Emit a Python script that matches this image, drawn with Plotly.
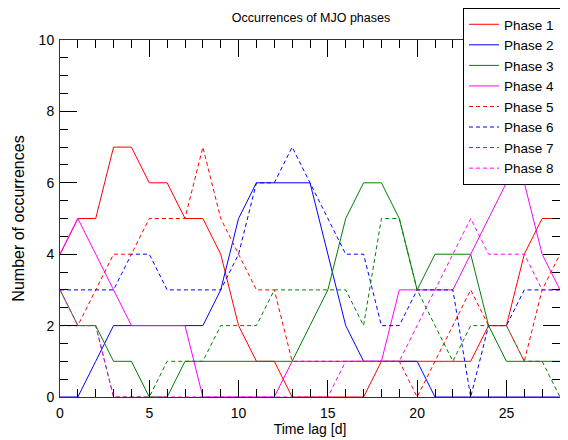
import plotly.graph_objects as go

lags = list(range(29))

phase1 = [4,5,5,7,7,6,6,5,5,4,2,1,1,0,0,0,0,0,1,1,1,1,1,1,2,2,4,5,5]
phase2 = [0,0,1,2,2,2,2,2,2,3,5,6,6,6,6,4,2,1,1,1,1,0,0,0,0,0,0,0,0]
phase3 = [3,2,2,1,1,0,0,1,1,1,1,1,1,1,2,3,5,6,6,5,3,4,4,4,2,1,1,1,1]
phase4 = [4,5,4,3,2,2,2,2,0,0,0,0,0,1,1,1,1,1,1,3,3,3,3,4,5,6,6,4,3]
phase5 = [2,2,3,4,4,5,5,5,7,5,4,3,3,1,1,1,1,1,1,1,0,1,2,3,2,2,1,3,4]
phase6 = [3,3,3,3,4,4,3,3,3,3,4,6,6,7,6,5,4,4,2,2,3,3,3,0,2,2,3,3,3]
phase7 = [2,2,2,0,0,0,1,1,1,2,2,2,3,3,3,3,3,2,5,5,3,2,1,2,2,2,1,1,0]
phase8 = [3,2,2,0,0,0,0,0,0,0,0,0,0,0,0,0,1,1,1,1,2,3,4,5,4,4,4,3,3]

names = ["Phase 1","Phase 2","Phase 3","Phase 4","Phase 5","Phase 6","Phase 7","Phase 8"]
series = [phase1,phase2,phase3,phase4,phase5,phase6,phase7,phase8]
colors = ["#ff0000","#0000ff","#008000","#ff00ff"]*2
dashes = ["solid"]*4 + ["4px,3px"]*4

FONT = "Liberation Sans, Arial, sans-serif"

# the page body has an 8px margin, so the figure is 560x432 placed at (8,8)
W, H = 560, 432
ML, MR, MT, MB = 52, 8, 32, 43

fig = go.Figure()
for n, s, c, d in zip(names, series, colors, dashes):
    fig.add_trace(go.Scatter(x=lags, y=s, mode="lines", name=n,
                             line=dict(color=c, width=1, dash=d)))

axis_common = dict(showline=True, linecolor="#333333", linewidth=1, mirror="ticks",
                   ticks="inside", ticklen=17, tickcolor="black", tickwidth=1,
                   showgrid=False, zeroline=False, automargin=False,
                   tickfont=dict(family=FONT, size=14, color="black"))

fig.update_xaxes(range=[0,28], tick0=0, dtick=5, ticklabelstandoff=3,
                 minor=dict(ticks="inside", ticklen=8, dtick=1, tickcolor="black", showgrid=False),
                 title=dict(text="Time lag [d]", font=dict(family=FONT, size=14, color="black"), standoff=0),
                 **axis_common)
fig.update_yaxes(range=[0,10], tick0=0, dtick=2, ticklabelstandoff=2,
                 minor=dict(ticks="inside", ticklen=8, dtick=0.5, tickcolor="black", showgrid=False),
                 title=dict(text="Number of occurrences", font=dict(family=FONT, size=16, color="black"), standoff=10),
                 **axis_common)

plot_h = H - MT - MB
fig.update_layout(
    width=W, height=H,
    margin=dict(l=ML, r=MR, t=MT, b=MB, autoexpand=False),
    paper_bgcolor="white", plot_bgcolor="white",
    title=dict(text="Occurrences of MJO phases", x=303/W, xanchor="center",
               y=1 - 10/H, yanchor="middle",
               font=dict(family=FONT, size=12.5, color="black")),
    legend=dict(x=0.806, y=1 + MT/plot_h, xanchor="left", yanchor="top",
                bgcolor="white", bordercolor="black", borderwidth=1,
                font=dict(family=FONT, size=13.5, color="black"),
                tracegroupgap=0, itemwidth=30),
    showlegend=True,
)

fig.write_html("out.html")
